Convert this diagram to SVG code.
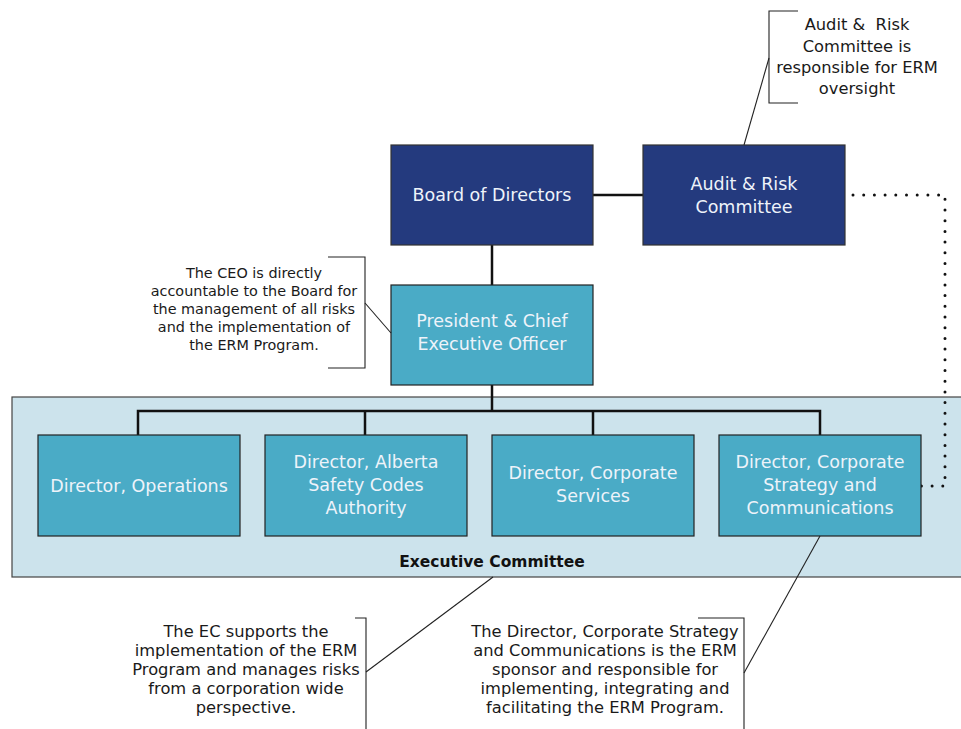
<svg xmlns="http://www.w3.org/2000/svg" width="961" height="729" viewBox="0 0 961 729">
<style>
.navy{fill:#243a7e;stroke:#333;stroke-width:1.2}
.teal{fill:#4aabc6;stroke:#222;stroke-width:1.2}
.bt{font-family:"DejaVu Sans",sans-serif;font-size:17.5px;fill:#eef3fa;text-anchor:middle}
.ct{font-family:"DejaVu Sans",sans-serif;font-size:16.3px;fill:#1a1a1a;text-anchor:middle}
.ct2{font-family:"DejaVu Sans",sans-serif;font-size:14.4px;fill:#1a1a1a;text-anchor:middle}
.conn{fill:none;stroke:#111;stroke-width:2.5}
.thin{fill:none;stroke:#222;stroke-width:1.1}
.dots{fill:none;stroke:#111;stroke-width:3;stroke-linecap:round;stroke-dasharray:0 10.7}
</style>
<rect id="executive-committee-bg" x="12" y="397" width="960" height="180" fill="#cce3ec" stroke="#444" stroke-width="1.2"/>
<g id="connectors">
<line class="conn" x1="593" y1="195" x2="643" y2="195"/>
<line class="conn" x1="492" y1="245" x2="492" y2="285"/>
<line class="conn" x1="492" y1="385" x2="492" y2="411"/>
<polyline class="conn" points="138,435 138,411 820,411 820,435"/>
<line class="conn" x1="365" y1="411" x2="365" y2="435"/>
<line class="conn" x1="593" y1="411" x2="593" y2="435"/>
<path class="dots" d="M853,195 H945 V486 H921"/>
</g>
<g id="board">
<rect class="navy" x="391" y="145" width="202" height="100"/>
<text class="bt" x="492" y="201">Board of Directors</text>
</g>
<g id="audit-risk">
<rect class="navy" x="643" y="145" width="202" height="100"/>
<text class="bt" x="744" y="190">Audit &amp; Risk</text>
<text class="bt" x="744" y="213">Committee</text>
</g>
<g id="ceo">
<rect class="teal" x="391" y="285" width="202" height="100"/>
<text class="bt" x="492" y="327">President &amp; Chief</text>
<text class="bt" x="492" y="350">Executive Officer</text>
</g>
<g id="dir-operations">
<rect class="teal" x="38" y="435" width="202" height="101"/>
<text class="bt" x="139" y="492">Director, Operations</text>
</g>
<g id="dir-asca">
<rect class="teal" x="265" y="435" width="202" height="101"/>
<text class="bt" x="366" y="468">Director, Alberta</text>
<text class="bt" x="366" y="491">Safety Codes</text>
<text class="bt" x="366" y="514">Authority</text>
</g>
<g id="dir-corporate-services">
<rect class="teal" x="492" y="435" width="202" height="101"/>
<text class="bt" x="593" y="479">Director, Corporate</text>
<text class="bt" x="593" y="502">Services</text>
</g>
<g id="dir-strategy">
<rect class="teal" x="719" y="435" width="202" height="101"/>
<text class="bt" x="820" y="468">Director, Corporate</text>
<text class="bt" x="820" y="491">Strategy and</text>
<text class="bt" x="820" y="514">Communications</text>
</g>
<text id="exec-label" x="492" y="567" font-family="DejaVu Sans, sans-serif" font-weight="bold" font-size="15.5px" fill="#111" text-anchor="middle">Executive Committee</text>
<g id="callout-audit">
<polyline class="thin" points="798,11 769,11 769,103 798,103"/>
<line class="thin" x1="769" y1="58" x2="744" y2="145"/>
<text class="ct" x="857" y="30" style="white-space:pre" xml:space="preserve">Audit &amp;  Risk</text>
<text class="ct" x="857" y="52">Committee is</text>
<text class="ct" x="857" y="73">responsible for ERM</text>
<text class="ct" x="857" y="94">oversight</text>
</g>
<g id="callout-ceo">
<polyline class="thin" points="328,257 365,257 365,368 328,368"/>
<line class="thin" x1="365" y1="303" x2="391" y2="333"/>
<text class="ct2" x="254" y="278">The CEO is directly</text>
<text class="ct2" x="254" y="296">accountable to the Board for</text>
<text class="ct2" x="254" y="314">the management of all risks</text>
<text class="ct2" x="254" y="332">and the implementation of</text>
<text class="ct2" x="254" y="350">the ERM Program.</text>
</g>
<g id="callout-ec">
<polyline class="thin" points="355,618 366,618 366,729"/>
<line class="thin" x1="366" y1="672" x2="493" y2="577"/>
<text class="ct" x="246" y="637">The EC supports the</text>
<text class="ct" x="246" y="656">implementation of the ERM</text>
<text class="ct" x="246" y="675">Program and manages risks</text>
<text class="ct" x="246" y="694">from a corporation wide</text>
<text class="ct" x="246" y="713">perspective.</text>
</g>
<g id="callout-strategy">
<polyline class="thin" points="698,618 744,618 744,729"/>
<line class="thin" x1="744" y1="673" x2="820" y2="536"/>
<text class="ct" x="605" y="637">The Director, Corporate Strategy</text>
<text class="ct" x="605" y="656">and Communications is the ERM</text>
<text class="ct" x="605" y="675">sponsor and responsible for</text>
<text class="ct" x="605" y="694">implementing, integrating and</text>
<text class="ct" x="605" y="713">facilitating the ERM Program.</text>
</g>
</svg>
